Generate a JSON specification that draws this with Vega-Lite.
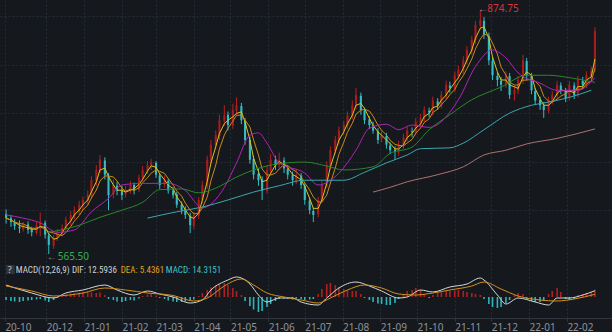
{
"$schema":"https://vega.github.io/schema/vega-lite/v6.json",
"background":"#15191e",
"padding":0,
"width":612,
"height":318,
"config":{"view":{"stroke":null},
"scale":{"continuousPadding":0},
"axis":{"gridColor":"#262b33","gridDash":[2,2],"gridWidth":1,"labelColor":"#8e949c","labelFont":"Noto Sans","labelFontSize":10,"domainColor":"#30353d","tickColor":"#30353d","title":null},
"axisY":{"labels":false,"ticks":false,"domain":false,"minExtent":0,"maxExtent":0,"grid":true},
"text":{"font":"Noto Sans","fontSize":10}},
"datasets":{
"k":[
{"d":"2020-10-29","o":616,"h":622,"l":604,"c":611,"m":-6},
{"d":"2020-11-02","o":611,"h":615,"l":600,"c":606,"m":-8},
{"d":"2020-11-05","o":606,"h":610,"l":596,"c":601,"m":-9},
{"d":"2020-11-09","o":600,"h":608,"l":592,"c":598,"m":-10},
{"d":"2020-11-12","o":597,"h":606,"l":594,"c":602,"m":-8},
{"d":"2020-11-16","o":603,"h":607,"l":591,"c":596,"m":-7},
{"d":"2020-11-19","o":597,"h":600,"l":588,"c":593,"m":-6},
{"d":"2020-11-23","o":592,"h":606,"l":590,"c":602,"m":-5},
{"d":"2020-11-26","o":600,"h":618,"l":588,"c":606,"m":-4},
{"d":"2020-11-30","o":605,"h":608,"l":585,"c":590,"m":-7},
{"d":"2020-12-03","o":589,"h":592,"l":565.5,"c":577,"m":-10},
{"d":"2020-12-07","o":576,"h":590,"l":572,"c":586,"m":-6},
{"d":"2020-12-10","o":586,"h":597,"l":582,"c":593,"m":-2},
{"d":"2020-12-14","o":592,"h":603,"l":588,"c":598,"m":2},
{"d":"2020-12-17","o":598,"h":613,"l":595,"c":609,"m":5},
{"d":"2020-12-21","o":608,"h":620,"l":602,"c":615,"m":7},
{"d":"2020-12-24","o":614,"h":626,"l":610,"c":621,"m":8},
{"d":"2020-12-28","o":620,"h":633,"l":615,"c":628,"m":9},
{"d":"2020-12-31","o":627,"h":638,"l":620,"c":634,"m":10},
{"d":"2021-01-04","o":633,"h":646,"l":628,"c":640,"m":10},
{"d":"2021-01-07","o":640,"h":664,"l":636,"c":659,"m":9},
{"d":"2021-01-11","o":658,"h":678,"l":652,"c":672,"m":8},
{"d":"2021-01-14","o":672,"h":691,"l":668,"c":685,"m":9},
{"d":"2021-01-18","o":684,"h":688,"l":660,"c":666,"m":4},
{"d":"2021-01-21","o":664,"h":668,"l":621,"c":640,"m":-4},
{"d":"2021-01-25","o":641,"h":660,"l":636,"c":653,"m":-6},
{"d":"2021-01-28","o":652,"h":657,"l":640,"c":646,"m":-9},
{"d":"2021-02-01","o":646,"h":652,"l":634,"c":640,"m":-10},
{"d":"2021-02-04","o":641,"h":652,"l":637,"c":646,"m":-8},
{"d":"2021-02-08","o":646,"h":658,"l":642,"c":653,"m":-6},
{"d":"2021-02-11","o":653,"h":656,"l":641,"c":646,"m":-7},
{"d":"2021-02-15","o":647,"h":666,"l":644,"c":662,"m":-3},
{"d":"2021-02-18","o":662,"h":677,"l":658,"c":672,"m":2},
{"d":"2021-02-22","o":671,"h":683,"l":667,"c":678,"m":5},
{"d":"2021-02-25","o":678,"h":686,"l":672,"c":682,"m":6},
{"d":"2021-03-01","o":681,"h":683,"l":662,"c":666,"m":3},
{"d":"2021-03-04","o":665,"h":668,"l":648,"c":653,"m":-2},
{"d":"2021-03-08","o":654,"h":665,"l":650,"c":659,"m":-4},
{"d":"2021-03-11","o":658,"h":661,"l":642,"c":646,"m":-7},
{"d":"2021-03-15","o":646,"h":650,"l":636,"c":640,"m":-9},
{"d":"2021-03-18","o":641,"h":644,"l":624,"c":628,"m":-10},
{"d":"2021-03-22","o":628,"h":632,"l":616,"c":621,"m":-10},
{"d":"2021-03-25","o":622,"h":626,"l":610,"c":615,"m":-9},
{"d":"2021-03-29","o":614,"h":618,"l":592,"c":602,"m":-8},
{"d":"2021-04-01","o":601,"h":619,"l":597,"c":615,"m":-5},
{"d":"2021-04-05","o":614,"h":638,"l":610,"c":634,"m":2},
{"d":"2021-04-08","o":634,"h":658,"l":630,"c":653,"m":8},
{"d":"2021-04-12","o":652,"h":690,"l":648,"c":685,"m":14},
{"d":"2021-04-15","o":684,"h":710,"l":680,"c":704,"m":19},
{"d":"2021-04-19","o":703,"h":722,"l":698,"c":716,"m":23},
{"d":"2021-04-22","o":715,"h":742,"l":710,"c":735,"m":26},
{"d":"2021-04-26","o":734,"h":754,"l":728,"c":741,"m":28},
{"d":"2021-04-29","o":742,"h":746,"l":722,"c":729,"m":24},
{"d":"2021-05-03","o":728,"h":756,"l":724,"c":748,"m":18},
{"d":"2021-05-06","o":747,"h":764,"l":742,"c":754,"m":12},
{"d":"2021-05-10","o":753,"h":757,"l":730,"c":735,"m":4},
{"d":"2021-05-13","o":734,"h":738,"l":704,"c":710,"m":-8},
{"d":"2021-05-17","o":710,"h":714,"l":680,"c":685,"m":-18},
{"d":"2021-05-20","o":686,"h":690,"l":660,"c":666,"m":-25},
{"d":"2021-05-24","o":667,"h":674,"l":652,"c":659,"m":-30},
{"d":"2021-05-27","o":660,"h":664,"l":634,"c":646,"m":-28},
{"d":"2021-05-31","o":645,"h":678,"l":642,"c":672,"m":-20},
{"d":"2021-06-03","o":671,"h":692,"l":666,"c":685,"m":-14},
{"d":"2021-06-07","o":685,"h":690,"l":672,"c":678,"m":-8},
{"d":"2021-06-10","o":678,"h":694,"l":674,"c":685,"m":-4},
{"d":"2021-06-14","o":684,"h":688,"l":668,"c":674,"m":-3},
{"d":"2021-06-17","o":673,"h":677,"l":660,"c":666,"m":-4},
{"d":"2021-06-21","o":666,"h":670,"l":652,"c":659,"m":-5},
{"d":"2021-06-24","o":658,"h":672,"l":654,"c":666,"m":-3},
{"d":"2021-06-28","o":665,"h":668,"l":648,"c":653,"m":-4},
{"d":"2021-07-01","o":652,"h":655,"l":628,"c":634,"m":-6},
{"d":"2021-07-05","o":633,"h":637,"l":616,"c":621,"m":-5},
{"d":"2021-07-08","o":620,"h":624,"l":606,"c":615,"m":-4},
{"d":"2021-07-12","o":616,"h":638,"l":612,"c":634,"m":6},
{"d":"2021-07-15","o":633,"h":658,"l":630,"c":653,"m":16},
{"d":"2021-07-19","o":652,"h":683,"l":649,"c":678,"m":26},
{"d":"2021-07-22","o":677,"h":702,"l":673,"c":697,"m":28},
{"d":"2021-07-26","o":696,"h":715,"l":692,"c":710,"m":24},
{"d":"2021-07-29","o":709,"h":727,"l":704,"c":722,"m":20},
{"d":"2021-08-02","o":721,"h":734,"l":716,"c":729,"m":16},
{"d":"2021-08-05","o":728,"h":746,"l":724,"c":741,"m":14},
{"d":"2021-08-09","o":740,"h":760,"l":736,"c":754,"m":12},
{"d":"2021-08-12","o":753,"h":776,"l":749,"c":767,"m":12},
{"d":"2021-08-16","o":766,"h":770,"l":742,"c":748,"m":6},
{"d":"2021-08-19","o":747,"h":751,"l":730,"c":735,"m":-2},
{"d":"2021-08-23","o":736,"h":740,"l":724,"c":729,"m":-6},
{"d":"2021-08-26","o":728,"h":733,"l":718,"c":722,"m":-10},
{"d":"2021-08-30","o":721,"h":725,"l":705,"c":710,"m":-13},
{"d":"2021-09-02","o":711,"h":722,"l":707,"c":716,"m":-14},
{"d":"2021-09-06","o":715,"h":719,"l":699,"c":704,"m":-16},
{"d":"2021-09-09","o":703,"h":707,"l":692,"c":697,"m":-16},
{"d":"2021-09-13","o":698,"h":702,"l":685,"c":695,"m":-12},
{"d":"2021-09-16","o":694,"h":709,"l":690,"c":704,"m":-4},
{"d":"2021-09-20","o":703,"h":718,"l":699,"c":713,"m":6},
{"d":"2021-09-23","o":712,"h":727,"l":708,"c":722,"m":12},
{"d":"2021-09-27","o":721,"h":726,"l":714,"c":720,"m":14},
{"d":"2021-09-30","o":719,"h":738,"l":716,"c":733,"m":18},
{"d":"2021-10-04","o":732,"h":743,"l":727,"c":738,"m":14},
{"d":"2021-10-07","o":737,"h":753,"l":733,"c":748,"m":6},
{"d":"2021-10-11","o":747,"h":751,"l":739,"c":745,"m":-2},
{"d":"2021-10-14","o":744,"h":765,"l":741,"c":760,"m":4},
{"d":"2021-10-18","o":759,"h":763,"l":748,"c":754,"m":8},
{"d":"2021-10-21","o":753,"h":772,"l":750,"c":767,"m":10},
{"d":"2021-10-25","o":766,"h":785,"l":762,"c":780,"m":12},
{"d":"2021-10-28","o":779,"h":784,"l":770,"c":776,"m":12},
{"d":"2021-11-01","o":775,"h":797,"l":771,"c":792,"m":13},
{"d":"2021-11-04","o":791,"h":804,"l":787,"c":799,"m":14},
{"d":"2021-11-08","o":798,"h":816,"l":794,"c":811,"m":12},
{"d":"2021-11-11","o":810,"h":829,"l":806,"c":824,"m":10},
{"d":"2021-11-15","o":823,"h":842,"l":818,"c":837,"m":8},
{"d":"2021-11-18","o":836,"h":861,"l":832,"c":856,"m":6},
{"d":"2021-11-22","o":855,"h":874.75,"l":850,"c":862,"m":4},
{"d":"2021-11-25","o":861,"h":866,"l":838,"c":843,"m":-4},
{"d":"2021-11-29","o":842,"h":846,"l":805,"c":811,"m":-14},
{"d":"2021-12-02","o":810,"h":815,"l":786,"c":792,"m":-20},
{"d":"2021-12-06","o":791,"h":796,"l":778,"c":786,"m":-22},
{"d":"2021-12-09","o":785,"h":790,"l":772,"c":780,"m":-20},
{"d":"2021-12-13","o":781,"h":797,"l":776,"c":792,"m":-12},
{"d":"2021-12-16","o":791,"h":795,"l":762,"c":767,"m":-6},
{"d":"2021-12-20","o":768,"h":779,"l":760,"c":773,"m":4},
{"d":"2021-12-23","o":772,"h":791,"l":768,"c":786,"m":8},
{"d":"2021-12-27","o":785,"h":818,"l":781,"c":811,"m":6},
{"d":"2021-12-30","o":810,"h":814,"l":786,"c":792,"m":-4},
{"d":"2022-01-03","o":791,"h":795,"l":768,"c":773,"m":-8},
{"d":"2022-01-06","o":772,"h":776,"l":755,"c":760,"m":-10},
{"d":"2022-01-10","o":761,"h":765,"l":748,"c":754,"m":-10},
{"d":"2022-01-13","o":753,"h":758,"l":738,"c":748,"m":-8},
{"d":"2022-01-17","o":747,"h":765,"l":744,"c":760,"m":6},
{"d":"2022-01-20","o":759,"h":772,"l":755,"c":767,"m":12},
{"d":"2022-01-24","o":766,"h":785,"l":762,"c":780,"m":18},
{"d":"2022-01-27","o":779,"h":783,"l":768,"c":773,"m":10},
{"d":"2022-01-31","o":772,"h":776,"l":758,"c":763,"m":-4},
{"d":"2022-02-03","o":764,"h":785,"l":760,"c":780,"m":-6},
{"d":"2022-02-07","o":779,"h":783,"l":762,"c":767,"m":-4},
{"d":"2022-02-10","o":768,"h":791,"l":764,"c":786,"m":4},
{"d":"2022-02-14","o":785,"h":790,"l":775,"c":780,"m":6},
{"d":"2022-02-17","o":781,"h":797,"l":776,"c":792,"m":8},
{"d":"2022-02-21","o":791,"h":803,"l":787,"c":798,"m":10},
{"d":"2022-02-24","o":800,"h":853,"l":796,"c":848,"m":14.3}
],
"ma20":[
{"d":"2020-10-29","v":615},{"d":"2020-11-12","v":611},{"d":"2020-11-26","v":605},{"d":"2020-12-10","v":593},{"d":"2020-12-24","v":596},{"d":"2021-01-07","v":619},{"d":"2021-01-21","v":636},{"d":"2021-02-01","v":653},{"d":"2021-02-18","v":655},{"d":"2021-03-11","v":655},{"d":"2021-03-25","v":646},{"d":"2021-04-08","v":624},{"d":"2021-04-26","v":650},{"d":"2021-05-06","v":681},{"d":"2021-05-17","v":716},{"d":"2021-05-24","v":719},{"d":"2021-05-31","v":706},{"d":"2021-06-10","v":681},{"d":"2021-07-01","v":668},{"d":"2021-07-12","v":653},{"d":"2021-07-29","v":668},{"d":"2021-08-12","v":697},{"d":"2021-08-23","v":725},{"d":"2021-09-06","v":730},{"d":"2021-09-16","v":723},{"d":"2021-09-27","v":729},{"d":"2021-10-11","v":726},{"d":"2021-11-04","v":761},{"d":"2021-11-18","v":803},{"d":"2021-12-02","v":824},{"d":"2021-12-13","v":814},{"d":"2021-12-23","v":795},{"d":"2022-01-10","v":782},{"d":"2022-01-24","v":773},{"d":"2022-02-10","v":773},{"d":"2022-02-24","v":789}],
"ma60":[
{"d":"2020-12-03","v":593},{"d":"2020-12-28","v":602},{"d":"2021-01-14","v":612},{"d":"2021-02-01","v":621},{"d":"2021-02-18","v":631},{"d":"2021-03-04","v":647},{"d":"2021-03-22","v":648},{"d":"2021-04-05","v":643},{"d":"2021-04-19","v":649},{"d":"2021-05-06","v":663},{"d":"2021-05-20","v":672},{"d":"2021-06-10","v":680},{"d":"2021-07-01","v":682},{"d":"2021-07-19","v":677},{"d":"2021-08-02","v":672},{"d":"2021-08-26","v":676},{"d":"2021-09-09","v":693},{"d":"2021-09-27","v":701},{"d":"2021-10-11","v":723},{"d":"2021-10-28","v":742},{"d":"2021-11-15","v":761},{"d":"2021-12-09","v":777},{"d":"2021-12-30","v":792},{"d":"2022-01-17","v":792},{"d":"2022-02-03","v":789},{"d":"2022-02-24","v":783}],
"ma120":[
{"d":"2021-02-22","v":611},{"d":"2021-03-18","v":619},{"d":"2021-04-08","v":625},{"d":"2021-04-29","v":634},{"d":"2021-05-20","v":644},{"d":"2021-06-10","v":652},{"d":"2021-07-01","v":659},{"d":"2021-07-22","v":659},{"d":"2021-08-02","v":659},{"d":"2021-08-19","v":669},{"d":"2021-09-06","v":681},{"d":"2021-09-23","v":691},{"d":"2021-10-04","v":699},{"d":"2021-10-28","v":700},{"d":"2021-11-08","v":706},{"d":"2021-11-25","v":723},{"d":"2021-12-16","v":744},{"d":"2022-01-03","v":754},{"d":"2022-01-17","v":758},{"d":"2022-02-03","v":764},{"d":"2022-02-21","v":773}],
"ma250":[
{"d":"2021-08-26","v":644},{"d":"2021-09-09","v":650},{"d":"2021-09-23","v":657},{"d":"2021-10-18","v":666},{"d":"2021-11-08","v":676},{"d":"2021-11-25","v":691},{"d":"2021-12-13","v":697},{"d":"2021-12-30","v":705},{"d":"2022-01-24","v":712},{"d":"2022-02-24","v":724}],
"dif":[
{"d":"2020-10-29","v":24},{"d":"2020-11-19","v":8},{"d":"2020-12-07","v":-2},{"d":"2020-12-17","v":8},{"d":"2020-12-31","v":14},{"d":"2021-01-18","v":24},{"d":"2021-01-28","v":14},{"d":"2021-02-11","v":4},{"d":"2021-02-22","v":12},{"d":"2021-03-04","v":6},{"d":"2021-03-15","v":0},{"d":"2021-03-29","v":-12},{"d":"2021-04-08","v":-6},{"d":"2021-04-15","v":14},{"d":"2021-04-29","v":34},{"d":"2021-05-06","v":40},{"d":"2021-05-17","v":26},{"d":"2021-05-24","v":4},{"d":"2021-05-31","v":-10},{"d":"2021-06-10","v":-2},{"d":"2021-06-21","v":-2},{"d":"2021-06-28","v":-10},{"d":"2021-07-12","v":-16},{"d":"2021-07-19","v":-2},{"d":"2021-07-29","v":18},{"d":"2021-08-12","v":30},{"d":"2021-08-23","v":22},{"d":"2021-09-02","v":12},{"d":"2021-09-16","v":-2},{"d":"2021-09-23","v":0},{"d":"2021-10-04","v":14},{"d":"2021-10-14","v":10},{"d":"2021-10-28","v":20},{"d":"2021-11-11","v":26},{"d":"2021-11-22","v":38},{"d":"2021-11-25","v":34},{"d":"2021-12-06","v":4},{"d":"2021-12-13","v":-14},{"d":"2021-12-23","v":-2},{"d":"2022-01-06","v":-10},{"d":"2022-01-17","v":-16},{"d":"2022-01-24","v":-2},{"d":"2022-02-03","v":-2},{"d":"2022-02-14","v":4},{"d":"2022-02-24","v":12.59}],
"dea":[
{"d":"2020-10-29","v":22},{"d":"2020-11-19","v":12},{"d":"2020-12-07","v":2},{"d":"2020-12-31","v":8},{"d":"2021-01-18","v":18},{"d":"2021-02-04","v":14},{"d":"2021-02-22","v":8},{"d":"2021-03-15","v":3},{"d":"2021-04-01","v":-8},{"d":"2021-04-12","v":-2},{"d":"2021-04-26","v":22},{"d":"2021-05-10","v":36},{"d":"2021-05-20","v":24},{"d":"2021-05-31","v":8},{"d":"2021-06-14","v":0},{"d":"2021-06-28","v":-6},{"d":"2021-07-12","v":-12},{"d":"2021-07-22","v":-2},{"d":"2021-08-05","v":14},{"d":"2021-08-19","v":24},{"d":"2021-09-02","v":18},{"d":"2021-09-16","v":6},{"d":"2021-09-30","v":4},{"d":"2021-10-14","v":8},{"d":"2021-10-28","v":14},{"d":"2021-11-15","v":22},{"d":"2021-11-25","v":30},{"d":"2021-12-09","v":16},{"d":"2021-12-23","v":2},{"d":"2022-01-10","v":-6},{"d":"2022-01-24","v":-8},{"d":"2022-02-07","v":-4},{"d":"2022-02-24","v":5.44}]
},
"resolve":{"scale":{"y":"independent"},"axis":{"y":"independent"}},
"layer":[
{"layer":[
{"data":{"name":"k"},"transform":[{"filter":"datum.c >= datum.o"}],"mark":{"type":"rule","color":"#b52020","strokeWidth":1},
"encoding":{"x":{"field":"d","type":"temporal","scale":{"type":"utc","domain":[{"year":2020,"month":10,"date":24,"utc":true},{"year":2022,"month":3,"date":10,"utc":true}]},
"axis":{"title":null,"grid":true,"labelExpr":"utcFormat(datum.value, '%y-%m')","labelAlign":"left","labelPadding":1,"tickSize":3,"labelFlush":false,"labelOverlap":false,"values":[{"year":2020,"month":10,"date":28,"utc":true},{"year":2020,"month":12,"date":1,"utc":true},{"year":2021,"month":1,"date":1,"utc":true},{"year":2021,"month":2,"date":1,"utc":true},{"year":2021,"month":3,"date":1,"utc":true},{"year":2021,"month":4,"date":1,"utc":true},{"year":2021,"month":5,"date":1,"utc":true},{"year":2021,"month":6,"date":1,"utc":true},{"year":2021,"month":7,"date":1,"utc":true},{"year":2021,"month":8,"date":1,"utc":true},{"year":2021,"month":9,"date":1,"utc":true},{"year":2021,"month":10,"date":1,"utc":true},{"year":2021,"month":11,"date":1,"utc":true},{"year":2021,"month":12,"date":1,"utc":true},{"year":2022,"month":1,"date":1,"utc":true},{"year":2022,"month":2,"date":1,"utc":true}]}},
"y":{"field":"l","type":"quantitative","scale":{"domain":[484.4,887.4],"zero":false,"nice":false},"axis":{"title":null,"values":[867,805,744,682,621]}},
"y2":{"field":"h"}}},
{"data":{"name":"k"},"transform":[{"filter":"datum.c < datum.o"}],"mark":{"type":"rule","color":"#33bcc4","strokeWidth":1},
"encoding":{"x":{"field":"d","type":"temporal"},"y":{"field":"l","type":"quantitative"},"y2":{"field":"h"}}},
{"data":{"name":"k"},"transform":[{"filter":"datum.c >= datum.o"}],"mark":{"type":"bar","color":"#a81c1c","width":2.1},
"encoding":{"x":{"field":"d","type":"temporal"},"y":{"field":"o","type":"quantitative"},"y2":{"field":"c"}}},
{"data":{"name":"k"},"transform":[{"filter":"datum.c < datum.o"}],"mark":{"type":"bar","color":"#33bcc4","width":2.1},
"encoding":{"x":{"field":"d","type":"temporal"},"y":{"field":"o","type":"quantitative"},"y2":{"field":"c"}}},
{"data":{"name":"k"},"transform":[{"window":[{"op":"mean","field":"c","as":"ma5"}],"frame":[-2,0],"sort":[{"field":"d"}]}],"mark":{"type":"line","color":"#d6c61a","strokeWidth":1},
"encoding":{"x":{"field":"d","type":"temporal"},"y":{"field":"ma5","type":"quantitative"}}},
{"data":{"name":"k"},"transform":[{"window":[{"op":"mean","field":"c","as":"ma10"}],"frame":[-4,0],"sort":[{"field":"d"}]}],"mark":{"type":"line","color":"#c98a1e","strokeWidth":1},
"encoding":{"x":{"field":"d","type":"temporal"},"y":{"field":"ma10","type":"quantitative"}}},
{"data":{"name":"ma20"},"mark":{"type":"line","color":"#b024b8","strokeWidth":1,"interpolate":"monotone"},
"encoding":{"x":{"field":"d","type":"temporal"},"y":{"field":"v","type":"quantitative"}}},
{"data":{"name":"ma60"},"mark":{"type":"line","color":"#2a862a","strokeWidth":1,"interpolate":"monotone"},
"encoding":{"x":{"field":"d","type":"temporal"},"y":{"field":"v","type":"quantitative"}}},
{"data":{"name":"ma120"},"mark":{"type":"line","color":"#3aa6ae","strokeWidth":1,"interpolate":"monotone"},
"encoding":{"x":{"field":"d","type":"temporal"},"y":{"field":"v","type":"quantitative"}}},
{"data":{"name":"ma250"},"mark":{"type":"line","color":"#b07070","strokeWidth":1,"interpolate":"monotone"},
"encoding":{"x":{"field":"d","type":"temporal"},"y":{"field":"v","type":"quantitative"}}},
{"data":{"values":[{"d":"2021-11-22","p":876,"t":"←"},{"d":"2020-12-03","p":561.7,"t":"←"}]},"mark":{"type":"text","color":"#8a8f96","align":"left","baseline":"middle","dx":-2},
"encoding":{"x":{"field":"d","type":"temporal"},"y":{"field":"p","type":"quantitative"},"text":{"field":"t"}}},
{"data":{"values":[{"d":"2021-11-22","p":876,"t":"874.75"}]},"mark":{"type":"text","color":"#d8343a","align":"left","baseline":"middle","dx":7},
"encoding":{"x":{"field":"d","type":"temporal"},"y":{"field":"p","type":"quantitative"},"text":{"field":"t"}}},
{"data":{"values":[{"d":"2020-12-03","p":561.7,"t":"565.50"}]},"mark":{"type":"text","color":"#2fb04e","align":"left","baseline":"middle","dx":9},
"encoding":{"x":{"field":"d","type":"temporal"},"y":{"field":"p","type":"quantitative"},"text":{"field":"t"}}}
]},
{"layer":[
{"data":{"name":"k"},"transform":[{"filter":"datum.m >= 0"}],"mark":{"type":"bar","color":"#b02020","width":1.6},
"encoding":{"x":{"field":"d","type":"temporal"},
"y":{"field":"m","type":"quantitative","scale":{"domain":[-42,594],"zero":false,"nice":false},"axis":{"title":null,"values":[68,45],"gridDash":[],"gridColor":"#2c3037"}},
"y2":{"datum":0}}},
{"data":{"name":"k"},"transform":[{"filter":"datum.m < 0"}],"mark":{"type":"bar","color":"#2fb4bc","width":1.6},
"encoding":{"x":{"field":"d","type":"temporal"},"y":{"field":"m","type":"quantitative"},"y2":{"datum":0}}},
{"data":{"name":"dif"},"mark":{"type":"line","color":"#d6d6d6","strokeWidth":1,"interpolate":"monotone"},
"encoding":{"x":{"field":"d","type":"temporal"},"y":{"field":"v","type":"quantitative"}}},
{"data":{"name":"dea"},"mark":{"type":"line","color":"#d4901c","strokeWidth":1,"interpolate":"monotone"},
"encoding":{"x":{"field":"d","type":"temporal"},"y":{"field":"v","type":"quantitative"}}},
{"data":{"values":[{"d":"2020-10-29","d2":"2020-11-05","a":64,"b":46}]},"mark":{"type":"rect","color":"#30343b"},
"encoding":{"x":{"field":"d","type":"temporal"},"x2":{"field":"d2"},"y":{"field":"a","type":"quantitative"},"y2":{"field":"b"}}},
{"data":{"values":[{"d":"2020-11-01","v":55,"t":"?"}]},"mark":{"type":"text","color":"#c8c8c8","align":"center","baseline":"middle","fontSize":9},
"encoding":{"x":{"field":"d","type":"temporal"},"y":{"field":"v","type":"quantitative"},"text":{"field":"t"}}},
{"data":{"values":[{"d":"2020-11-06","v":55,"t":"MACD(12,26,9)"},{"d":"2020-12-22","v":55,"t":"DIF: 12.5936"}]},"mark":{"type":"text","color":"#d0d0d0","align":"left","baseline":"middle","font":"'Liberation Sans Narrow', 'Roboto Condensed', Roboto, sans-serif","fontSize":9},
"encoding":{"x":{"field":"d","type":"temporal"},"y":{"field":"v","type":"quantitative"},"text":{"field":"t"}}},
{"data":{"values":[{"d":"2021-01-31","v":55,"t":"DEA: 5.4361"}]},"mark":{"type":"text","color":"#e0a020","align":"left","baseline":"middle","font":"'Liberation Sans Narrow', 'Roboto Condensed', Roboto, sans-serif","fontSize":9},
"encoding":{"x":{"field":"d","type":"temporal"},"y":{"field":"v","type":"quantitative"},"text":{"field":"t"}}},
{"data":{"values":[{"d":"2021-03-09","v":55,"t":"MACD: 14.3151"}]},"mark":{"type":"text","color":"#3fc2ca","align":"left","baseline":"middle","font":"'Liberation Sans Narrow', 'Roboto Condensed', Roboto, sans-serif","fontSize":9},
"encoding":{"x":{"field":"d","type":"temporal"},"y":{"field":"v","type":"quantitative"},"text":{"field":"t"}}}
]}
]
}
